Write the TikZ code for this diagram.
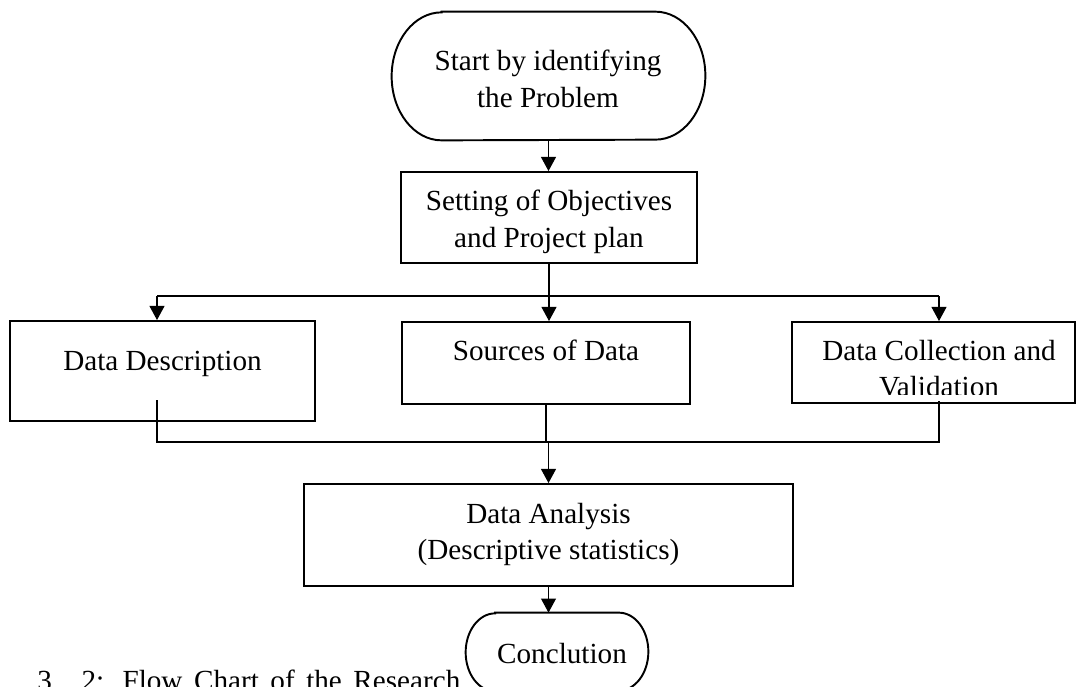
\documentclass[tikz,border=0pt]{standalone}
\usepackage{fontspec}
\setmainfont{Liberation Serif}
\usetikzlibrary{arrows.meta}

% outline of a terminal: node, end radius, half height
\newcommand{\termline}[3]{%
  \draw[outline] ([xshift=#2]#1.north west) -- ([xshift=-#2]#1.north east)
    arc[start angle=90, end angle=-90, x radius=#2, y radius=#3]
    -- ([xshift=#2]#1.south west)
    arc[start angle=270, end angle=90, x radius=#2, y radius=#3] -- cycle;}

\begin{document}
\begin{tikzpicture}[
    outline/.style={line width=1.1pt},
    box/.style={draw, outline, inner sep=0pt},
    term/.style={inner sep=0pt},
    txt/.style={anchor=north, inner sep=0pt, align=center},
    link/.style={line width=0.6pt},
    >={Triangle[length=8pt, width=8.5pt]},
    font=\fontsize{16.6}{20.7}\selectfont
]
    \useasboundingbox (0,0) rectangle (21.56,-13.74);

    % Formen
    \node[term, minimum width=6.26cm, minimum height=2.56cm] (start) at (10.97,-1.52) {};
    \termline{start}{1.0cm}{1.28cm}
    \node[box, minimum width=5.92cm, minimum height=1.82cm] (plan) at (10.98,-4.35) {};
    \node[box, minimum width=6.1cm, minimum height=2.0cm] (desc) at (3.25,-7.42) {};
    \node[box, minimum width=5.76cm, minimum height=1.64cm] (src) at (10.92,-7.26) {};
    \node[box, minimum width=5.66cm, minimum height=1.62cm] (coll) at (18.67,-7.25) {};
    \node[box, minimum width=9.78cm, minimum height=2.04cm] (anal) at (10.97,-10.7) {};
    \node[term, minimum width=3.64cm, minimum height=1.56cm] (concl) at (11.14,-13.04) {};
    \termline{concl}{0.59cm}{0.78cm}

    % Texte
    \node[txt] (startTxt) at (10.96,-1.0) {Start by identifying\\the Problem};
    \node[txt] (planTxt) at (10.98,-3.8) {Setting of Objectives\\and Project plan};
    \node[txt] (descTxt) at (3.25,-7.02) {Data Description};
    \node[txt] (srcTxt) at (10.92,-6.8) {Sources of Data};
    \begin{scope}
        \clip (coll.north west) rectangle ([yshift=0.18cm]coll.south east);
        \node[txt] (collTxt) at (18.78,-6.8) {Data Collection and\\Validation};
    \end{scope}
    \node[txt] (analTxt) at (10.97,-10.06) {Data Analysis\\(Descriptive statistics)};
    \node[txt] (conclTxt) at (11.24,-12.86) {Conclution};
    \node[anchor=north west, inner sep=0pt] (cap) at (0.74,-13.4)
        {\makebox[8.46cm][s]{3. 2: Flow Chart of the Research}};

    % Verzweigung
    \coordinate (forkL) at (3.14,-5.92);
    \coordinate (forkR) at (18.78,-5.92);
    \draw[link,->] (start.south) -- (start.south |- plan.north);
    \draw[link] (plan.south) -- (plan.south |- forkL);
    \draw[link] (forkL) -- (forkR);
    \draw[link,->] (forkL) -- (forkL |- desc.north);
    \draw[link,->] (plan.south |- forkL) -- (plan.south |- src.north);
    \draw[link,->] (forkR) -- (forkR |- coll.north);

    % Zusammenfuehrung
    \coordinate (descOut) at (3.14,-8.0);
    \coordinate (collOut) at (18.78,-8.02);
    \coordinate (joinL) at (3.14,-8.84);
    \coordinate (joinR) at (18.78,-8.84);
    \draw[link] (descOut) -- (joinL) -- (joinR) -- (collOut);
    \draw[link] (src.south) -- (src.south |- joinL);
    \draw[link,->] (anal.north |- joinL) -- (anal.north);
    \draw[link,->] (anal.south) -- (anal.south |- concl.north);
\end{tikzpicture}
\end{document}
